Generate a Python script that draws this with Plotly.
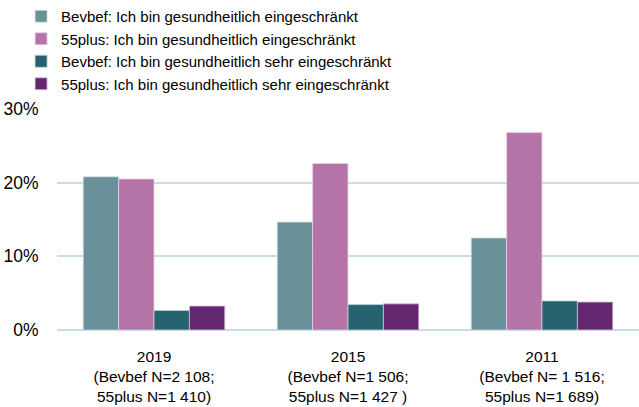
import plotly.graph_objects as go

years = ["2019<br>(Bevbef N=2 108;<br>55plus N=1 410)",
         "2015<br>(Bevbef N=1 506;<br>55plus N=1 427 )",
         "2011<br>(Bevbef N= 1 516;<br>55plus N=1 689)"]

series_names = ["Bevbef: Ich bin gesundheitlich eingeschränkt",
                "55plus: Ich bin gesundheitlich eingeschränkt",
                "Bevbef: Ich bin gesundheitlich sehr eingeschränkt",
                "55plus: Ich bin gesundheitlich sehr eingeschränkt"]

bevbef_eingeschraenkt = [20.8, 14.65, 12.5]
plus55_eingeschraenkt = [20.5, 22.6, 26.8]
bevbef_sehr = [2.65, 3.45, 3.95]
plus55_sehr = [3.25, 3.55, 3.8]

values = [bevbef_eingeschraenkt, plus55_eingeschraenkt, bevbef_sehr, plus55_sehr]
colors = ["#6A9199", "#B474A8", "#26636E", "#65276F"]
edges = ["#D6E2E4", "#E7D2E3", "#BFD3D6", "#D6C4D9"]

fig = go.Figure()
for name, vals, col, edge in zip(series_names, values, colors, edges):
    fig.add_trace(go.Bar(
        x=years, y=vals, name=name,
        marker=dict(color=col, line=dict(color=edge, width=0.8)),
    ))

fig.update_layout(
    width=639, height=407,
    barmode="group", bargap=0.27, bargroupgap=0,
    plot_bgcolor="white", paper_bgcolor="white",
    margin=dict(l=57, r=0, t=109, b=77, autoexpand=False),
    font=dict(family="Liberation Sans, Arial, sans-serif", color="#000000"),
    legend=dict(
        xref="container", yref="container",
        x=0.033, y=1.003, xanchor="left", yanchor="top",
        font=dict(size=15), tracegroupgap=0,
        bgcolor="rgba(0,0,0,0)",
    ),
    yaxis=dict(
        range=[0, 30], tickvals=[0, 10, 20, 30],
        ticktext=["0%", "10%", "20%", "30%"],
        showgrid=True, gridcolor="#C9DDE6", gridwidth=1.5,
        zeroline=True, zerolinecolor="#C9DDE6", zerolinewidth=2,
        ticks="outside", ticklen=14, tickcolor="rgba(0,0,0,0)",
        tickfont=dict(size=17.5), showline=False, fixedrange=True,
        automargin=False,
    ),
    xaxis=dict(
        ticks="outside", ticklen=12, tickcolor="rgba(0,0,0,0)",
        tickfont=dict(size=15.5), showline=False, fixedrange=True,
        tickangle=0, automargin=False,
    ),
)

fig.write_html("out.html")
